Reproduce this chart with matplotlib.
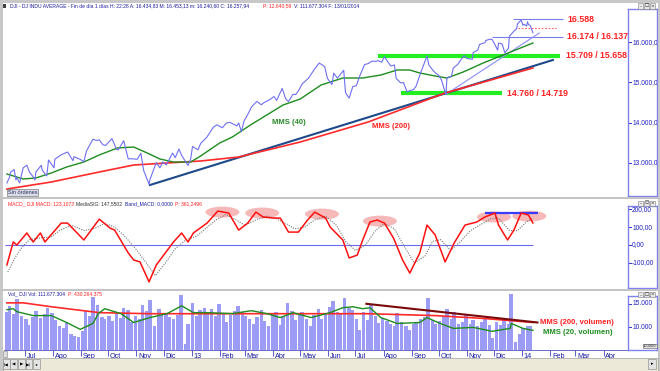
import matplotlib
matplotlib.use("Agg")
import matplotlib.pyplot as plt
import matplotlib.dates as mdates
import matplotlib.transforms as mtransforms
from matplotlib.patches import Ellipse, Rectangle
import pandas as pd

plt.rcParams['font.family'] = ['Liberation Sans', 'DejaVu Sans']

# ------------------------------------------------------------------ data
price_dates = [
    "2012-06-11", "2012-06-14", "2012-06-15", "2012-06-19", "2012-06-21", "2012-06-22",
    "2012-06-25", "2012-06-29", "2012-07-03", "2012-07-06", "2012-07-10", "2012-07-12",
    "2012-07-13", "2012-07-19", "2012-07-20", "2012-07-25", "2012-07-27", "2012-08-02",
    "2012-08-03", "2012-08-10", "2012-08-17", "2012-08-23", "2012-08-24", "2012-08-31",
    "2012-09-04", "2012-09-07", "2012-09-14", "2012-09-18", "2012-09-21", "2012-09-25",
    "2012-09-28", "2012-10-05", "2012-10-10", "2012-10-12", "2012-10-18", "2012-10-23",
    "2012-10-26", "2012-11-02", "2012-11-06", "2012-11-09", "2012-11-15", "2012-11-16",
    "2012-11-23", "2012-11-27", "2012-11-30", "2012-12-04", "2012-12-11", "2012-12-14",
    "2012-12-18", "2012-12-21", "2012-12-28", "2012-12-31", "2013-01-02", "2013-01-08",
    "2013-01-11", "2013-01-18", "2013-01-25", "2013-01-29", "2013-02-04", "2013-02-08",
    "2013-02-12", "2013-02-20", "2013-02-22", "2013-02-25", "2013-02-28", "2013-03-05",
    "2013-03-08", "2013-03-14", "2013-03-19", "2013-03-22", "2013-03-28", "2013-04-02",
    "2013-04-05", "2013-04-11", "2013-04-15", "2013-04-18", "2013-04-23", "2013-04-26",
    "2013-04-30", "2013-05-03", "2013-05-10", "2013-05-17", "2013-05-22", "2013-05-28",
    "2013-05-31", "2013-06-05", "2013-06-07", "2013-06-11", "2013-06-13", "2013-06-18",
    "2013-06-20", "2013-06-24", "2013-06-28", "2013-07-02", "2013-07-05", "2013-07-11",
    "2013-07-15", "2013-07-19", "2013-07-24", "2013-07-26", "2013-07-30", "2013-08-02",
    "2013-08-06", "2013-08-09", "2013-08-13", "2013-08-15", "2013-08-20", "2013-08-23",
    "2013-08-27", "2013-08-30", "2013-09-03", "2013-09-06", "2013-09-10", "2013-09-13",
    "2013-09-18", "2013-09-20", "2013-09-24", "2013-09-27", "2013-10-01", "2013-10-04",
    "2013-10-08", "2013-10-09", "2013-10-10", "2013-10-15", "2013-10-17", "2013-10-22",
    "2013-10-25", "2013-10-29", "2013-11-01", "2013-11-07", "2013-11-08", "2013-11-13",
    "2013-11-15", "2013-11-21", "2013-11-22", "2013-11-27", "2013-11-29", "2013-12-03",
    "2013-12-05", "2013-12-06", "2013-12-10", "2013-12-13", "2013-12-17", "2013-12-18",
    "2013-12-20", "2013-12-23", "2013-12-26", "2013-12-27", "2013-12-31", "2014-01-02",
    "2014-01-03", "2014-01-06", "2014-01-07", "2014-01-08", "2014-01-10", "2014-01-13",
]
price_vals = [
    12500, 12650, 12767, 12838, 12574, 12640,
    12502, 12880, 12943, 12772, 12653, 12573,
    12777, 12943, 12822, 12676, 13075, 12878,
    13096, 13207, 13275, 13057, 13158, 13090,
    13035, 13306, 13593, 13564, 13579, 13457,
    13437, 13610, 13345, 13328, 13557, 13102,
    13107, 13093, 13245, 12815, 12470, 12588,
    13010, 12878, 13026, 12951, 13248, 13135,
    13351, 13190, 12938, 13104, 13412, 13329,
    13488, 13650, 13896, 13954, 13880, 13993,
    14019, 13927, 14001, 13784, 14054, 14254,
    14397, 14539, 14456, 14512, 14579, 14662,
    14565, 14865, 14599, 14537, 14719, 14712,
    14840, 14974, 15118, 15354, 15500, 15409,
    15116, 14961, 15248, 15122, 15177, 15318,
    14758, 14620, 14910, 14932, 15136, 15461,
    15485, 15544, 15543, 15559, 15521, 15658,
    15518, 15425, 15451, 15112, 15002, 15010,
    14776, 14810, 14834, 14922, 15191, 15376,
    15676, 15451, 15334, 15258, 15191, 15072,
    14776, 14720, 15126, 15168, 15371, 15467,
    15570, 15680, 15615, 15593, 15761, 15821,
    15962, 16009, 16064, 16097, 16086, 15915,
    15822, 15999, 15974, 15755, 15875, 16167,
    16221, 16294, 16357, 16479, 16577, 16441,
    16470, 16425, 16531, 16462, 16437, 16257,
]

mms40_dates = ["2012-06-11", "2012-06-29", "2012-07-13", "2012-07-30", "2012-08-16", "2012-09-04",
               "2012-09-21", "2012-10-11", "2012-10-29", "2012-11-13", "2012-11-27", "2012-12-12",
               "2012-12-31", "2013-01-11", "2013-02-01", "2013-02-15", "2013-03-07", "2013-03-25",
               "2013-04-12", "2013-05-01", "2013-05-24", "2013-06-17", "2013-07-09", "2013-07-29",
               "2013-08-16", "2013-08-30", "2013-09-10", "2013-09-27", "2013-10-10", "2013-10-28",
               "2013-11-19", "2013-12-11", "2014-01-02", "2014-01-13"]
mms40_vals = [12725, 12600, 12625, 12750, 12900, 13025,
              13200, 13375, 13400, 13250, 13100, 13025,
              13025, 13175, 13500, 13650, 13950, 14200,
              14450, 14600, 14950, 15125, 15125, 15200,
              15325, 15325, 15250, 15175, 15125, 15275,
              15500, 15700, 15900, 16000]

mms200_dates = ["2012-06-11", "2012-07-30", "2012-09-21", "2012-10-29", "2012-12-05", "2013-01-11",
                "2013-02-22", "2013-05-01", "2013-07-15", "2013-10-08", "2014-01-13"]
mms200_vals = [12350, 12525, 12775, 12950, 13000, 13050,
               13150, 13525, 14025, 14750, 15375]

# support / resistance levels drawn on the price panel
lvl_top = 16588
lvl_mid = 16155
lvl_dot = 16375
lvl_green_hi = 15683
lvl_green_lo = 14740
trend_main_dates = ["2012-11-16", "2014-02-04"]
trend_main_vals = [12450, 15575]
trend_short_dates = ["2013-10-09", "2014-01-20"]
trend_short_vals = [14719, 16250]

macd_dates = ["2012-06-11", "2012-06-18", "2012-06-22", "2012-07-03", "2012-07-10", "2012-07-18",
              "2012-07-23", "2012-08-10", "2012-08-17", "2012-09-04", "2012-09-21", "2012-10-03",
              "2012-10-08", "2012-10-23", "2012-10-29", "2012-11-05", "2012-11-15", "2012-11-23",
              "2012-12-12", "2012-12-21", "2012-12-28", "2013-01-03", "2013-01-18", "2013-01-30",
              "2013-02-11", "2013-02-22", "2013-03-04", "2013-03-13", "2013-03-21", "2013-04-01",
              "2013-04-09", "2013-04-18", "2013-04-29", "2013-05-09", "2013-05-17", "2013-05-29",
              "2013-06-03", "2013-06-17", "2013-06-24", "2013-07-03", "2013-07-09", "2013-07-17",
              "2013-07-25", "2013-08-02", "2013-08-12", "2013-08-22", "2013-08-30", "2013-09-10",
              "2013-09-18", "2013-09-27", "2013-10-08", "2013-10-18", "2013-10-30", "2013-11-12",
              "2013-11-21", "2013-12-02", "2013-12-06", "2013-12-16", "2013-12-23", "2013-12-31",
              "2014-01-08", "2014-01-13"]
macd_vals = [-111, 17, 0, 67, 17, 67,
             17, 122, 122, 28, 144, 94,
             83, -44, -83, -94, -205, -111,
             17, 67, 17, 67, 122, 189,
             178, 83, 122, 183, 156, 150,
             150, 72, 72, 139, 183, 150,
             100, 28, -72, -56, 28, 128,
             139, 122, 39, -83, -156, -44,
             111, 56, -94, 11, 111, 128,
             156, 178, 111, 28, 83, 178,
             167, 123]

signal_dates = ["2012-06-12", "2012-06-20", "2012-06-28", "2012-07-06", "2012-07-18", "2012-07-30",
                "2012-08-08", "2012-08-21", "2012-09-05", "2012-09-17", "2012-09-27", "2012-10-08",
                "2012-10-19", "2012-10-31", "2012-11-12", "2012-11-22", "2012-12-03", "2012-12-14",
                "2012-12-26", "2013-01-07", "2013-01-16", "2013-01-28", "2013-02-08", "2013-02-19",
                "2013-03-01", "2013-03-13", "2013-03-25", "2013-04-03", "2013-04-15", "2013-04-25",
                "2013-05-06", "2013-05-17", "2013-05-29", "2013-06-10", "2013-06-20", "2013-07-01",
                "2013-07-12", "2013-07-23", "2013-08-02", "2013-08-13", "2013-08-23", "2013-09-04",
                "2013-09-16", "2013-09-24", "2013-10-03", "2013-10-14", "2013-10-25", "2013-11-05",
                "2013-11-15", "2013-11-27", "2013-12-06", "2013-12-18", "2013-12-27", "2014-01-06",
                "2014-01-13"]
signal_vals = [-150, -70, -10, 30, 40, 45,
               80, 110, 80, 95, 120, 100,
               50, -20, -100, -170, -100, -20,
               30, 50, 90, 140, 170, 140,
               110, 140, 160, 150, 120, 90,
               100, 140, 160, 110, 20, -30,
               0, 80, 120, 90, 0, -100,
               -60, 20, 30, -30, 20, 80,
               110, 145, 150, 80, 80, 130,
               148]

# MACD peaks highlighted with pink ellipses
hl_dates = ["2013-02-04", "2013-03-20", "2013-05-25", "2013-07-28", "2013-12-01", "2014-01-09"]
hl_vals = [183, 178, 172, 133, 156, 161]
macd_res_dates = ["2013-11-21", "2014-01-19"]
macd_res_val = 178

# volume, one bar every third trading day from 2012-06-11
vol_start = "2012-06-11"
vol_vals = [
    13200, 14500, 12800, 16000, 12500,                              # Jun 12
    11800, 10500, 12200, 13400, 12000, 12800, 14200, 13000,         # Jul
    11500, 10400, 9800, 11200, 8600, 8200, 7900,                    # Aug
    9200, 13500, 12400, 16500, 14800, 12200, 11800,                 # Sep
    12500, 11400, 13200, 12000, 14200, 13600, 11200, 12400,         # Oct
    11800, 14800, 13500, 15800, 10200, 13800, 12600,                # Nov
    13000, 12200, 11800, 12600, 16800, 6500, 10800,                 # Dic
    15200, 12400, 13600, 14200, 12800, 13800, 12500, 15000,         # Jan 13
    12800, 11200, 12600, 13400, 14600, 13200,                       # Feb
    12400, 11800, 10800, 12200, 13600, 11400, 10200,                # Mar
    12800, 13200, 10600, 12400, 15200, 13400, 11600, 12800,         # Abr
    13200, 11800, 10400, 12600, 13800, 11800, 12800,                # May
    14400, 15600, 13200, 12800, 16200, 14200, 13600,                # Jun
    11800, 9400, 13200, 11600, 14800, 12400, 11000, 12000,          # Jul
    11400, 10800, 10200, 13000, 11200, 10400, 9400,                 # Ago
    10800, 11200, 11800, 12200, 16200, 11600, 10800,                # Sep
    11400, 12400, 13800, 11800, 13200, 10800, 11200, 12600,         # Oct
    10800, 11600, 10400, 11200, 12000, 10600, 7800,                 # Nov
    11200, 10600, 11800, 10800, 17000, 6800, 8600,                  # Dic
    9800, 10400, 10200,                                             # Jan 14
]
volma200_dates = ["2012-06-11", "2012-06-29", "2012-07-30", "2012-09-21", "2012-11-16", "2013-01-11",
                  "2013-06-03", "2013-07-15", "2013-09-27", "2013-11-21", "2014-01-13"]
volma200_vals = [15200, 15200, 14375, 13125, 12900, 12900,
                 12900, 12900, 12500, 11875, 11040]
volma20_dates = ["2012-06-11", "2012-06-18", "2012-06-22", "2012-07-10", "2012-07-30", "2012-08-16",
                 "2012-08-31", "2012-09-14", "2012-09-20", "2012-09-27", "2012-10-15", "2012-10-29",
                 "2012-11-16", "2012-12-05", "2012-12-21", "2013-01-03", "2013-01-18", "2013-02-15",
                 "2013-03-08", "2013-03-25", "2013-04-09", "2013-04-23", "2013-05-13", "2013-06-03",
                 "2013-06-17", "2013-06-28", "2013-07-09", "2013-07-17", "2013-07-29", "2013-08-16",
                 "2013-09-10", "2013-09-18", "2013-09-30", "2013-10-17", "2013-11-08", "2013-11-29",
                 "2013-12-19", "2013-12-20", "2014-01-02", "2014-01-13"]
volma20_vals = [13750, 13960, 13330, 12500, 12500, 11040,
                9580, 10830, 12920, 13960, 12920, 11040,
                12080, 12920, 14580, 13125, 13125, 12920,
                13540, 12920, 12080, 13125, 12080, 13125,
                14170, 14375, 13960, 14170, 12080, 10830,
                11040, 12080, 11040, 9790, 10000, 9170,
                9790, 10830, 9790, 9375]
vol_trend_dates = ["2013-07-13", "2014-01-18"]
vol_trend_vals = [15000, 11040]

month_starts = pd.date_range("2012-07-01", "2014-04-01", freq="MS")
month_labels = ["Jul", "Ago", "Sep", "Oct", "Nov", "Dic", "13", "Feb", "Mar", "Abr", "May", "Jun",
                "Jul", "Ago", "Sep", "Oct", "Nov", "Dic", "14", "Feb", "Mar", "Abr"]

price_ticks = [16000, 15000, 14000, 13000]
price_tick_labels = ["16.000,0", "15.000,0", "14.000,0", "13.000,0"]
macd_ticks = [200, 100, 0, -100]
macd_tick_labels = ["200,00", "100,00", "0,00", "-100,00"]
vol_ticks = [15000, 10000]
vol_tick_labels = ["15.000", "10.000"]

# ------------------------------------------------------------------ layout helpers
W, H = 660, 371
fig = plt.figure(figsize=(6.6, 3.71), dpi=100)
fig.patch.set_facecolor("white")


def rect(x0, y0, x1, y1):
    return [x0 / W, 1 - y1 / H, (x1 - x0) / W, (y1 - y0) / H]


def ftext(x, y, s, **kw):
    kw.setdefault("va", "center")
    kw.setdefault("ha", "left")
    return fig.text(x / W, 1 - y / H, s, **kw)


def frect(x0, y0, x1, y1, **kw):
    r = Rectangle((x0 / W, 1 - y1 / H), (x1 - x0) / W, (y1 - y0) / H,
                  transform=fig.transFigure, **kw)
    fig.add_artist(r)
    return r


def chain(x, y, parts, size, gap=2.5, min_x=None):
    """Write coloured text pieces one after the other on one line."""
    renderer = fig.canvas.get_renderer()
    min_x = min_x or {}
    for i, (s, c) in enumerate(parts):
        if i in min_x:
            x = max(x, min_x[i])
        t = ftext(x, y, s, fontsize=size, color=c)
        bb = t.get_window_extent(renderer=renderer)
        x = bb.x1 + gap


XMIN = pd.Timestamp("2012-06-07 19:00")
XMAX = pd.Timestamp("2014-04-28")
D = pd.to_datetime


def clean(ax):
    for s in ax.spines.values():
        s.set_visible(False)
    ax.set_xticks([])
    ax.set_yticks([])
    ax.set_xlim(XMIN, XMAX)


BLUE_TXT = "#1c1ca0"
RED_TXT = "#ff2020"
TS = 3.6  # small header font size

# ------------------------------------------------------------------ price panel
ax1 = fig.add_axes(rect(4, 10, 628, 196))
clean(ax1)
ax1.set_ylim(12175, 16825)

ax1.hlines(lvl_green_hi, D("2013-07-26"), D("2014-02-12"), color="#22ee22", lw=3.0, zorder=1)
ax1.hlines(lvl_green_lo, D("2013-08-20"), D("2013-12-10"), color="#22ee22", lw=3.0, zorder=1)
ax1.hlines(lvl_top, D("2013-12-22"), D("2014-02-15"), color="#7a7af0", lw=0.8)
ax1.hlines(lvl_mid, D("2013-11-29"), D("2014-02-15"), color="#7a7af0", lw=0.8)
ax1.hlines(lvl_dot, D("2013-12-27"), D("2014-02-07"), color="#ff6060", lw=0.8, linestyles=(0, (1.5, 1.5)))

ax1.plot(D(trend_main_dates), trend_main_vals, color="#1f4a8a", lw=1.5, zorder=3)
ax1.plot(D(mms200_dates), mms200_vals, color="#ff2a2a", lw=1.2, zorder=4)
ax1.plot(D(trend_short_dates), trend_short_vals, color="#8c8cf5", lw=0.8, zorder=3)
ax1.plot(D(mms40_dates), mms40_vals, color="#1e8c1e", lw=1.0, zorder=4)
ax1.plot(D(price_dates), price_vals, color="#6f6ff2", lw=0.8, zorder=5)

lab_kw = dict(color=RED_TXT, fontsize=6.3, fontweight="bold", va="center", ha="left")
ax1.text(D("2014-02-20"), 16588, "16.588", **lab_kw)
ax1.text(D("2014-02-20"), 16155, "16.174 / 16.137", **lab_kw)
ax1.text(D("2014-02-18"), 15683, "15.709 / 15.658", **lab_kw)
ax1.text(D("2013-12-15"), 14740, "14.760 / 14.719", **lab_kw)
ax1.text(D("2013-03-31"), 14025, "MMS (40)", color="#2a8a2a", fontsize=5.5,
         fontweight="bold", va="center", ha="left")
ax1.text(D("2013-07-19"), 13925, "MMS (200)", color=RED_TXT, fontsize=5.5,
         fontweight="bold", va="center", ha="left")

# ------------------------------------------------------------------ MACD panel
ax2 = fig.add_axes(rect(4, 199, 628, 288))
clean(ax2)
ax2.set_ylim(-239, 256)
for d, v in zip(hl_dates, hl_vals):
    ax2.add_patch(Ellipse((mdates.date2num(D(d)), v), 37.6, 61, facecolor="#f08a8a",
                          alpha=0.6, edgecolor="none", zorder=1))
ax2.hlines(0, D("2012-06-09"), D("2014-01-13"), color="#6a6af0", lw=0.8, zorder=2)
ax2.hlines(macd_res_val, D(macd_res_dates[0]), D(macd_res_dates[1]), color="#3a3aff", lw=1.6, zorder=3)
ax2.plot(D(signal_dates), signal_vals, color="#777777", lw=0.8, ls=(0, (1, 1.2)), zorder=3)
ax2.plot(D(macd_dates), macd_vals, color="#ff1010", lw=1.1, zorder=4)

# ------------------------------------------------------------------ volume panel
ax3 = fig.add_axes(rect(4, 292, 628, 350))
for s in ["top", "left", "right"]:
    ax3.spines[s].set_visible(False)
ax3.spines["bottom"].set_color("#5050c0")
ax3.spines["bottom"].set_linewidth(0.6)
ax3.set_xlim(XMIN, XMAX)
ax3.set_ylim(5208, 17500)
ax3.set_yticks([])
vol_dates = pd.bdate_range(vol_start, periods=len(vol_vals), freq="3B")
ax3.bar(vol_dates, vol_vals, width=3.9, color="#9c9cf4", edgecolor="none", zorder=1)
ax3.plot(D(volma200_dates), volma200_vals, color="#ff2a2a", lw=1.2, zorder=3)
ax3.plot(D(volma20_dates), volma20_vals, color="#1e8c1e", lw=1.0, zorder=3)
ax3.plot(D(vol_trend_dates), vol_trend_vals, color="#7a0a0a", lw=1.5, zorder=4)
ax3.text(D("2014-01-21"), 11040, "MMS (200, volumen)", color=RED_TXT, fontsize=5.5,
         fontweight="bold", va="center", ha="left")
ax3.text(D("2014-01-24"), 8960, "MMS (20, volumen)", color="#1e8c1e", fontsize=5.5,
         fontweight="bold", va="center", ha="left")

ax3.set_xticks(month_starts)
ax3.set_xticklabels([])
ax3.tick_params(axis="x", length=4, width=0.6, color="#4040c0", direction="out")
tb = mtransforms.blended_transform_factory(ax3.transData, ax3.transAxes)
for d, lab in zip(month_starts, month_labels):
    ax3.text(d + pd.Timedelta(days=2), -0.11, lab, transform=tb, fontsize=5.2,
             color=BLUE_TXT, ha="left", va="center", clip_on=False)

# ------------------------------------------------------------------ right axis boxes
def right_box(y0, y1, ylim, ticks, labels):
    axr = fig.add_axes(rect(628, y0, 657, y1))
    axr.set_xlim(0, 1)
    axr.set_ylim(*ylim)
    axr.set_xticks([])
    axr.set_yticks([])
    for s in axr.spines.values():
        s.set_color("#8080f0")
        s.set_linewidth(1.0)
    for t, l in zip(ticks, labels):
        axr.plot([0, 0.1], [t, t], color="#3030c0", lw=0.7, clip_on=True)
        axr.text(0.14, t, l, fontsize=4.8, color="#2020c0", va="center", ha="left",
                 clip_on=True)
    return axr


right_box(9, 196, (12175, 16825), price_ticks, price_tick_labels)
right_box(206, 288, (-239, 256 - (206 - 199) * 100 / 18), macd_ticks, macd_tick_labels)
right_box(296, 350, (5208, 17500 - (296 - 292) * 1000 / 4.8), vol_ticks, vol_tick_labels)

# ------------------------------------------------------------------ chrome
frect(0, 0, 660, 2.5, facecolor="#c8c8c8", edgecolor="none")
frect(0, 0, 2.5, 371, facecolor="#c8c8c8", edgecolor="none")
frect(657.5, 0, 660, 371, facecolor="#c8c8c8", edgecolor="none")
frect(0, 196.5, 660, 199, facecolor="#c4c4c4", edgecolor="none")
frect(0, 288.5, 660, 291, facecolor="#c4c4c4", edgecolor="none")
frect(3, 3.5, 6, 7.5, facecolor="#404040", edgecolor="none")

# window buttons
for yb in (3.5, 200.5, 292):
    for i, g in enumerate(["_", "\u25a1", "\u00d7"]):
        xb = 638 + i * 6
        frect(xb, yb, xb + 5, yb + 5, facecolor="#e8e8e8", edgecolor="#808080", lw=0.4)
        ftext(xb + 2.5, yb + 2.3, g, fontsize=3.2, ha="center", color="#202020",
              family=["DejaVu Sans"])

# titles (pieces written one after the other)
chain(10, 6, [("DJI - DJ INDU AVERAGE - Fin de d\u00eda 1 d\u00edas H: 22:28 A: 16.434,83 "
               "M: 16.453,13 m: 16.240,60 C: 16.257,94", BLUE_TXT),
              ("P: 12.640,59", RED_TXT),
              ("V: 111.677.304 F: 13/01/2014", BLUE_TXT)], TS, min_x={1: 263})
chain(8, 204, [("MACD_ DJI MACD: 123,1073", RED_TXT),
               ("MediaSIG: 147,5502", "#303030"),
               ("Band_MACD: 0,0000", BLUE_TXT),
               ("P: 361,2496", RED_TXT)], TS)
chain(8, 294, [("Vol_ DJI Vol: 111.677.304", BLUE_TXT),
               ("P: 430.264.375", RED_TXT)], TS)

# "Sin ordenes" box
ftext(8, 192.5, "Sin \u00f3rdenes", fontsize=4.0, color="#303060",
      bbox=dict(boxstyle="square,pad=0.15", facecolor="#d8dce8", edgecolor="#606060", lw=0.4))

# volume scale box
ftext(643, 346, "100000", fontsize=3.0, color="#303030",
      bbox=dict(boxstyle="square,pad=0.1", facecolor="#e0e0e0", edgecolor="#606060", lw=0.4))

# bottom scroll bar
frect(2.5, 357.5, 657.5, 371, facecolor="#ece9d8", edgecolor="#a0a0a0", lw=0.5)
frect(2.5, 351, 7, 357, facecolor="#e0e0e0", edgecolor="#808080", lw=0.4)
for i, g in enumerate(["|\u25c0", "\u25c0", "\u25b6", "\u25b6|", "\u25c2"]):
    xb = 3 + i * 7.5
    frect(xb, 359, xb + 6.5, 369, facecolor="#e4e4e4", edgecolor="#808080", lw=0.4)
    ftext(xb + 3.25, 364, g, fontsize=3.2, ha="center", color="#000000",
          family=["DejaVu Sans"])
frect(648, 359, 656, 369, facecolor="#e4e4e4", edgecolor="#808080", lw=0.4)
ftext(652, 364, "\u25b8", fontsize=3.5, ha="center", color="#000000", family=["DejaVu Sans"])

fig.savefig("out.png", dpi=100)
